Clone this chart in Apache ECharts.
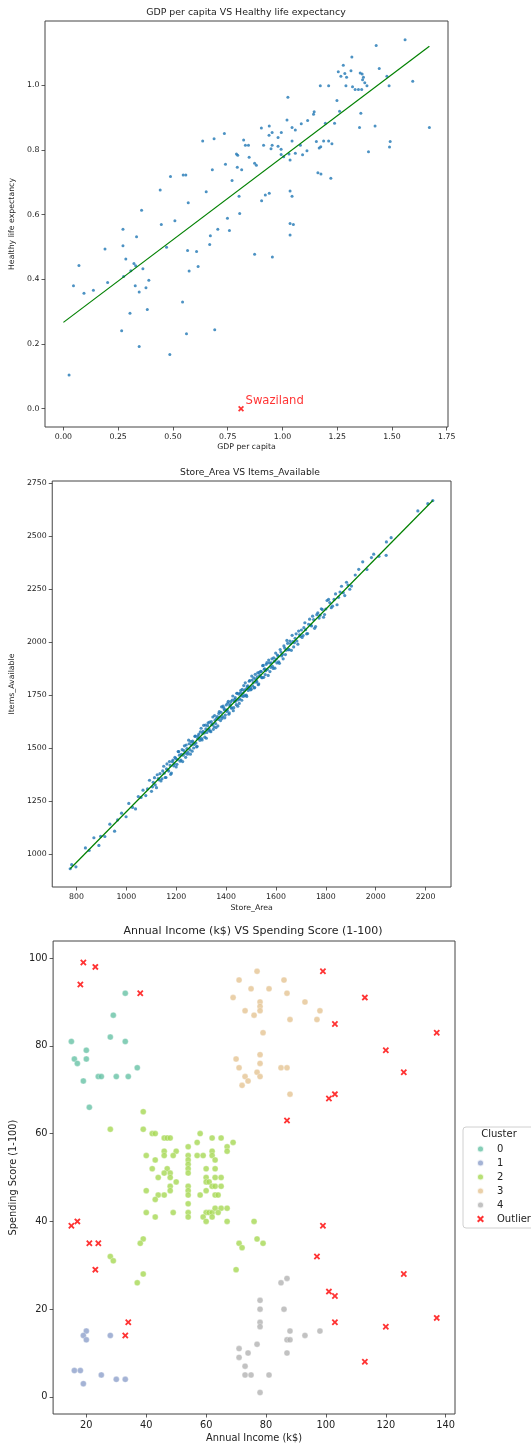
<!DOCTYPE html>
<html>
<head>
<meta charset="utf-8">
<script src="https://cdn.jsdelivr.net/npm/echarts@6.0.0/dist/echarts.min.js"></script>
<style>
html,body{margin:0;padding:0;background:#fff;}
#chart{width:531px;height:1447px;}
</style>
</head>
<body>
<div id="chart"></div>
<script>
// ---------- Chart 1: GDP per capita VS Healthy life expectancy ----------
const happinessPoints = [
[1.560,1.141],[1.428,1.123],[1.317,1.088],[1.278,1.062],[1.442,1.052],[1.255,1.042],[1.313,1.045],[1.285,1.037],[1.355,1.038],[1.364,1.035],
[1.267,1.028],[1.293,1.025],[1.370,1.025],[1.366,1.017],[1.477,1.028],[1.376,1.008],[1.595,1.013],[1.290,0.999],[1.320,0.996],[1.332,0.987],
[1.347,0.987],[1.362,0.987],[1.386,0.999],[1.487,0.999],[1.173,0.999],[1.211,0.999],[1.025,0.963],[1.249,0.953],[1.261,0.920],[1.145,0.918],
[1.142,0.911],[1.358,0.914],[1.021,0.893],[1.115,0.891],[1.196,0.883],[1.238,0.883],[1.086,0.881],[1.044,0.870],[0.904,0.868],[0.940,0.874],
[1.352,0.870],[1.423,0.874],[1.671,0.870],[1.059,0.862],[0.953,0.854],[0.995,0.854],[0.735,0.851],[0.688,0.835],[0.636,0.828],[0.823,0.831],
[0.939,0.846],[0.980,0.839],[1.044,0.828],[1.155,0.826],[1.211,0.828],[1.188,0.828],[1.492,0.826],[1.175,0.810],[1.168,0.806],[1.226,0.819],
[0.831,0.815],[0.845,0.815],[0.914,0.815],[0.953,0.815],[1.082,0.815],[1.489,0.809],[0.948,0.804],[0.980,0.812],[0.994,0.802],[1.393,0.795],
[1.112,0.798],[0.790,0.788],[0.796,0.784],[0.848,0.778],[1.030,0.788],[1.059,0.790],[1.092,0.785],[0.994,0.786],
[1.006,0.779],[1.035,0.769],[0.740,0.756],[0.794,0.747],[0.873,0.759],[0.881,0.753],[0.814,0.739],[0.680,0.739],[0.489,0.718],[0.547,0.723],
[0.559,0.723],[1.162,0.730],[1.176,0.726],[1.221,0.713],[0.770,0.706],[0.442,0.676],[0.652,0.671],[1.035,0.673],[0.940,0.666],[0.922,0.661],
[0.802,0.657],[1.044,0.657],[0.905,0.643],[0.570,0.637],[0.357,0.614],[0.805,0.604],[0.749,0.589],[0.509,0.581],[0.447,0.570],[1.035,0.573],
[1.050,0.570],[0.705,0.555],[0.758,0.551],[0.272,0.555],[1.035,0.537],[0.671,0.535],[0.334,0.532],[0.272,0.504],[0.668,0.508],[0.190,0.494],
[0.471,0.499],[0.567,0.489],[0.608,0.486],[0.873,0.478],[0.954,0.469],[0.285,0.463],[0.322,0.449],[0.330,0.442],[0.071,0.443],[0.615,0.440],
[0.363,0.433],[0.308,0.427],[0.574,0.426],[0.275,0.409],[0.390,0.397],[0.202,0.390],[0.046,0.380],[0.328,0.380],[0.377,0.374],[0.137,0.366],
[0.094,0.357],[0.346,0.361],[0.544,0.330],[0.383,0.307],[0.304,0.295],[0.266,0.241],[0.562,0.232],[0.691,0.244],[0.346,0.192],[0.486,0.168],
[0.026,0.104]
];
const happinessOutlier = [[0.811, 0.0]];
const happinessOutlierName = 'Swaziland';
const trend1X = [0, 1.671];
const trend1Y = [0.267, 1.121];
const chart1XTicks = [0, 0.25, 0.5, 0.75, 1.0, 1.25, 1.5, 1.75];
const chart1YTicks = [0, 0.2, 0.4, 0.6, 0.8, 1.0];

// ---------- Chart 2: Store_Area VS Items_Available ----------
const storePoints = [
[775,932],[781,951],[798,941],[836,1030],[851,1018],[870,1078],[890,1042],[897,1085],[914,1084],[934,1142],[953,1109],[965,1162],[981,1194],[999,1177],
[1010,1240],[1025,1221],[1037,1214],[1048,1272],[1059,1268],[1067,1302],[1078,1277],[1085,1308],[1093,1349],[1101,1297],[1108,1339],[1116,1327],[1124,1375],[1131,1351],[1139,1346],[1146,1393],[1152,1382],[1159,1362],[1163,1426],[1170,1392],[1176,1419],[1181,1383],[1187,1444],[1192,1427],[1198,1452],
[1203,1424],[1208,1484],[1213,1467],[1219,1444],[1224,1493],[1228,1467],[1233,1511],[1238,1457],[1243,1498],[1247,1481],[1252,1521],[1257,1472],[1261,1515],[1266,1534],[1270,1501],[1275,1556],[1279,1524],[1284,1509],[1288,1558],[1293,1547],[1297,1577],[1302,1545],[1306,1571],[1310,1608],[1315,1552],[1319,1591],[1323,1574],[1328,1619],[1332,1590],[1336,1581],[1341,1625],[1345,1612],[1349,1589],[1354,1654],[1358,1616],[1362,1641],[1367,1605],[1371,1664],[1375,1646],[1380,1669],[1384,1640],[1388,1698],[1393,1681],[1397,1656],
[1401,1704],[1405,1679],[1409,1721],[1413,1666],[1417,1706],[1421,1689],[1425,1727],[1429,1677],[1433,1720],[1437,1738],[1441,1705],[1445,1759],[1449,1727],[1453,1711],[1457,1760],[1461,1747],[1465,1777],[1469,1744],[1473,1771],[1477,1808],[1481,1750],[1485,1789],[1489,1772],[1493,1816],[1497,1787],[1501,1778],[1505,1821],[1509,1808],[1513,1784],[1517,1848],[1521,1811],[1525,1836],[1529,1799],[1533,1857],[1537,1839],[1541,1861],[1545,1832],[1549,1890],[1553,1872],[1557,1847],[1561,1895],[1566,1871],[1571,1915],[1576,1861],[1581,1902],[1586,1886],[1591,1926],[1596,1877],
[1601,1920],[1606,1939],[1611,1907],[1617,1965],[1623,1935],[1629,1921],[1635,1972],[1641,1962],[1647,1994],[1653,1964],[1659,1993],[1665,2032],[1671,1977],[1677,2018],[1684,2005],[1691,2052],[1698,2027],[1705,2022],[1712,2068],[1719,2058],[1727,2040],[1735,2108],[1743,2076],[1751,2106],[1759,2073],[1768,2138],[1777,2126],[1786,2153],[1795,2130],
[1805,2196],[1816,2186],[1827,2169],[1839,2227],[1851,2211],[1863,2263],[1876,2219],[1889,2269],[1903,2264],[1918,2316],[1932,2343],[1948,2378],[1965,2342],[1983,2398],[1992,2414],
[2013,2404],[2042,2409],[2043,2472],[2062,2492],[2169,2618],[2209,2652],[2229,2667]
];
const storePointsDense = [
[1105,1318],[1113,1361],[1121,1314],[1128,1357],[1135,1380],[1143,1356],[1150,1415],[1156,1362],[1161,1403],[1167,1398],[1173,1437],[1178,1377],[1184,1437],[1190,1417],[1195,1457],
[1200,1412],[1205,1446],[1210,1484],[1216,1439],[1221,1471],[1226,1437],[1231,1489],[1236,1477],[1240,1515],[1245,1472],[1250,1538],[1255,1493],[1259,1531],[1264,1486],[1268,1525],
[1273,1518],[1277,1557],[1282,1506],[1286,1546],[1291,1567],[1295,1537],[1300,1594],[1304,1539],[1308,1579],[1313,1572],[1317,1609],[1321,1547],[1326,1606],[1330,1584],[1334,1623],
[1339,1578],[1343,1611],[1347,1647],[1352,1601],[1356,1632],[1360,1597],[1365,1649],[1369,1636],[1373,1673],[1378,1630],[1382,1695],[1386,1649],[1391,1689],[1395,1643],[1399,1681],
[1403,1673],[1407,1712],[1411,1660],[1415,1700],[1419,1719],[1423,1690],[1427,1746],[1431,1691],[1435,1730],[1439,1722],[1443,1759],[1447,1698],[1451,1755],[1455,1733],[1459,1772],
[1463,1726],[1467,1759],[1471,1795],[1475,1748],[1479,1779],[1483,1744],[1487,1794],[1491,1781],[1495,1819],[1499,1775],[1503,1840],[1507,1793],[1511,1832],[1515,1786],[1519,1825],
[1523,1816],[1527,1855],[1531,1803],[1535,1843],[1539,1862],[1543,1833],[1547,1889],[1551,1834],[1555,1874],[1559,1865],[1564,1903],[1569,1843],[1574,1902],[1579,1881],[1584,1921],
[1589,1876],[1594,1910],[1599,1948],[1604,1902],[1609,1934],[1614,1900],[1620,1953],[1626,1942],[1632,1982],[1638,1941],[1644,2008],[1650,1964],[1656,2005],[1662,1961],[1668,2002],
[1674,1997],[1681,2039],[1688,1990],[1695,2034],[1702,2057],[1709,2031],[1716,2091],[1723,2039],[1731,2084],[1739,2080],[1747,2122],[1755,2065],[1764,2129],[1773,2113],[1782,2157],
[1791,2117],[1800,2156],[1811,2201],[1822,2162],[1833,2201],[1845,2176],[1857,2236],[1870,2233],[1883,2282],[1896,2249]
];
const trend2X = [775, 2229];
const trend2Y = [932, 2667];
const chart2XTicks = [800, 1000, 1200, 1400, 1600, 1800, 2000, 2200];
const chart2YTicks = [1000, 1250, 1500, 1750, 2000, 2250, 2500, 2750];

// ---------- Chart 3: Annual Income (k$) VS Spending Score (1-100) ----------
const clusterNames = ['0', '1', '2', '3', '4'];
const clusterColors = ['#66c2a5', '#8da0cb', '#a6d854', '#e5c494', '#b3b3b3'];
const cluster0 = [[15,81],[16,77],[17,76],[20,79],[20,77],[19,72],[24,73],[25,73],[30,73],[34,73],[28,82],[29,87],[33,92],[33,81],[37,75],[21,66]];
const cluster1 = [[20,15],[19,14],[20,13],[28,14],[16,6],[18,6],[19,3],[25,5],[30,4],[33,4]];
const cluster2 = [[39,65],[28,61],[39,61],[42,60],[43,60],[46,59],[47,59],[48,59],[58,60],[62,59],[65,59],[69,58],[57,58],[54,57],[67,57],[67,56],
[46,56],[46,55],[50,56],[40,55],[43,54],[49,55],[54,55],[54,54],[54,53],[54,52],[54,51],[57,55],[59,55],[62,56],[62,55],[63,54],[42,52],[47,52],
[46,51],[48,51],[48,50],[44,50],[50,49],[60,52],[63,52],[60,50],[60,49],[61,49],[63,50],[65,50],[62,48],[63,48],[65,48],[48,48],[48,47],[40,47],
[54,48],[54,47],[54,46],[60,47],[44,46],[46,46],[43,45],[58,46],[63,46],[64,46],[54,44],[40,42],[49,42],[54,42],[54,41],[60,42],[61,42],[62,42],
[63,43],[65,43],[67,43],[64,42],[59,41],[62,41],[43,41],[60,40],[67,40],[76,40],[39,36],[38,35],[77,36],[79,35],[71,35],[72,34],[28,32],[29,31],
[70,29],[39,28],[37,26]];
const cluster3 = [[69,91],[71,95],[77,97],[75,93],[81,93],[86,95],[87,92],[78,90],[78,89],[78,88],[73,88],[76,87],[93,90],[98,88],[88,86],[97,86],
[79,83],[70,77],[71,75],[78,78],[78,76],[77,74],[78,73],[73,73],[74,72],[72,71],[85,75],[87,75],[88,69]];
const cluster4 = [[87,27],[85,26],[78,22],[78,20],[86,20],[78,17],[78,16],[88,15],[98,15],[93,14],[87,13],[88,13],[77,12],[71,11],[71,9],[74,10],
[87,10],[73,7],[73,5],[75,5],[81,5],[78,1]];
const outlierPoints = [[19,99],[23,98],[18,94],[38,92],[99,97],[113,91],[103,85],[137,83],[120,79],[126,74],[103,69],[101,68],[87,63],[15,39],[17,40],
[21,35],[24,35],[99,39],[97,32],[23,29],[126,28],[101,24],[103,23],[34,17],[103,17],[137,18],[120,16],[33,14],[113,8]];
const chart3XTicks = [20, 40, 60, 80, 100, 120, 140];
const chart3YTicks = [0, 20, 40, 60, 80, 100];

// ---------- build ----------
const FONT = 'DejaVu Sans';
const TXT = '#222';
const crossSymbol = 'path://M0,2L2,0L5,3L8,0L10,2L7,5L10,8L8,10L5,7L2,10L0,8L3,5Z';

function zip(xs, ys) { return xs.map((x, i) => [x, ys[i]]); }

function makeAxis(gridIndex, min, max, ticks, fmt, name, fontSize, nameGap, labelMargin) {
  return {
    type: 'value', gridIndex, min, max,
    name, nameLocation: 'middle', nameGap,
    nameTextStyle: { fontFamily: FONT, fontSize, color: TXT },
    axisLine: { show: false, onZero: false },
    axisTick: { show: true, inside: false, length: 3.5, customValues: ticks, lineStyle: { color: '#333', width: 0.8 } },
    axisLabel: { customValues: ticks, formatter: fmt, fontFamily: FONT, fontSize, color: TXT, margin: labelMargin },
    splitLine: { show: false }
  };
}

const clusterData = [cluster0, cluster1, cluster2, cluster3, cluster4];

const option = {
  animation: false,
  backgroundColor: '#fff',
  textStyle: { fontFamily: FONT },
  title: [
    { text: 'GDP per capita VS Healthy life expectancy', left: 246, top: 8, textAlign: 'center', padding: 0,
      textStyle: { fontFamily: FONT, fontSize: 9.4, fontWeight: 'normal', color: TXT } },
    { text: 'Store_Area VS Items_Available', left: 250, top: 468, textAlign: 'center', padding: 0,
      textStyle: { fontFamily: FONT, fontSize: 9.2, fontWeight: 'normal', color: TXT } },
    { text: 'Annual Income (k$) VS Spending Score (1-100)', left: 253, top: 926, textAlign: 'center', padding: 0,
      textStyle: { fontFamily: FONT, fontSize: 11, fontWeight: 'normal', color: TXT } },
    { text: 'Cluster', left: 499, top: 1129, textAlign: 'center', padding: 0,
      textStyle: { fontFamily: FONT, fontSize: 10, fontWeight: 'normal', color: TXT } }
  ],
  grid: [
    { left: 45, top: 21, width: 403, height: 406, show: true, borderColor: '#444', borderWidth: 1, backgroundColor: 'transparent' },
    { left: 50, top: 481, width: 401, height: 406, show: true, borderColor: '#444', borderWidth: 1, backgroundColor: 'transparent' },
    { left: 51, top: 941, width: 404, height: 473, show: true, borderColor: '#444', borderWidth: 1, backgroundColor: 'transparent' }
  ],
  xAxis: [
    makeAxis(0, -0.084, 1.756, chart1XTicks, v => v.toFixed(2), 'GDP per capita', 7.8, 15.5, 5.5),
    makeAxis(1, 703, 2302, chart2XTicks, v => String(v), 'Store_Area', 7.8, 16.5, 5.5),
    makeAxis(2, 8.9, 143.1, chart3XTicks, v => String(v), 'Annual Income (k$)', 9.8, 19, 6)
  ],
  yAxis: [
    makeAxis(0, -0.0566, 1.199, chart1YTicks, v => v.toFixed(1), 'Healthy life expectancy', 7.8, 22, 5.5),
    makeAxis(1, 846, 2759, chart2YTicks, v => String(v), 'Items_Available', 7.8, 30, 5.5),
    makeAxis(2, -3.9, 103.9, chart3YTicks, v => String(v), 'Spending Score (1-100)', 9.8, 28, 5.5)
  ],
  legend: {
    data: clusterNames.concat(['Outlier']),
    orient: 'vertical', left: 463, top: 1127,
    padding: [15, 40, 2, 13],
    borderColor: '#d0d0d0', borderWidth: 1, borderRadius: 3, backgroundColor: '#fff',
    itemGap: 0, itemWidth: 7, itemHeight: 7, selectedMode: false,
    textStyle: { fontFamily: FONT, fontSize: 10, color: TXT, lineHeight: 14, padding: [0, 0, 0, 8] }
  },
  series: [
    { name: 'happiness', type: 'scatter', xAxisIndex: 0, yAxisIndex: 0, data: happinessPoints,
      symbolSize: 3, itemStyle: { color: '#1f77b4' }, silent: true, z: 2 },
    { name: 'trend1', type: 'line', xAxisIndex: 0, yAxisIndex: 0, data: zip(trend1X, trend1Y),
      showSymbol: false, lineStyle: { color: '#008000', width: 1.2 }, silent: true, z: 3 },
    { name: 'swaziland', type: 'scatter', xAxisIndex: 0, yAxisIndex: 0, data: happinessOutlier,
      symbol: crossSymbol, symbolSize: 6, itemStyle: { color: '#ff0000' }, silent: true, z: 4,
      label: { show: true, position: 'right', distance: 1.5, offset: [0, -8], formatter: happinessOutlierName,
        fontFamily: FONT, fontSize: 11.6, color: '#ff0000' } },
    { name: 'store', type: 'scatter', xAxisIndex: 1, yAxisIndex: 1, data: storePoints,
      symbolSize: 3.2, itemStyle: { color: '#1f77b4' }, silent: true, z: 2 },
    { name: 'storeDense', type: 'scatter', xAxisIndex: 1, yAxisIndex: 1, data: storePointsDense,
      symbolSize: 3.2, itemStyle: { color: '#1f77b4' }, silent: true, z: 2 },
    { name: 'trend2', type: 'line', xAxisIndex: 1, yAxisIndex: 1, data: zip(trend2X, trend2Y),
      showSymbol: false, lineStyle: { color: '#008000', width: 1.2 }, silent: true, z: 3 }
  ].concat(clusterNames.map((n, i) => ({
      name: n, type: 'scatter', xAxisIndex: 2, yAxisIndex: 2, data: clusterData[i],
      symbolSize: 6, itemStyle: { color: clusterColors[i], borderColor: '#fff', borderWidth: 0.4 }, silent: true, z: 2
    }))).concat([
    { name: 'Outlier', type: 'scatter', xAxisIndex: 2, yAxisIndex: 2, data: outlierPoints,
      symbol: crossSymbol, symbolSize: 6.5, itemStyle: { color: '#ff0000' }, silent: true, z: 3 }
  ])
};

const chart = echarts.init(document.getElementById('chart'), null, { renderer: 'canvas' });
chart.setOption(option);
</script>
</body>
</html>
